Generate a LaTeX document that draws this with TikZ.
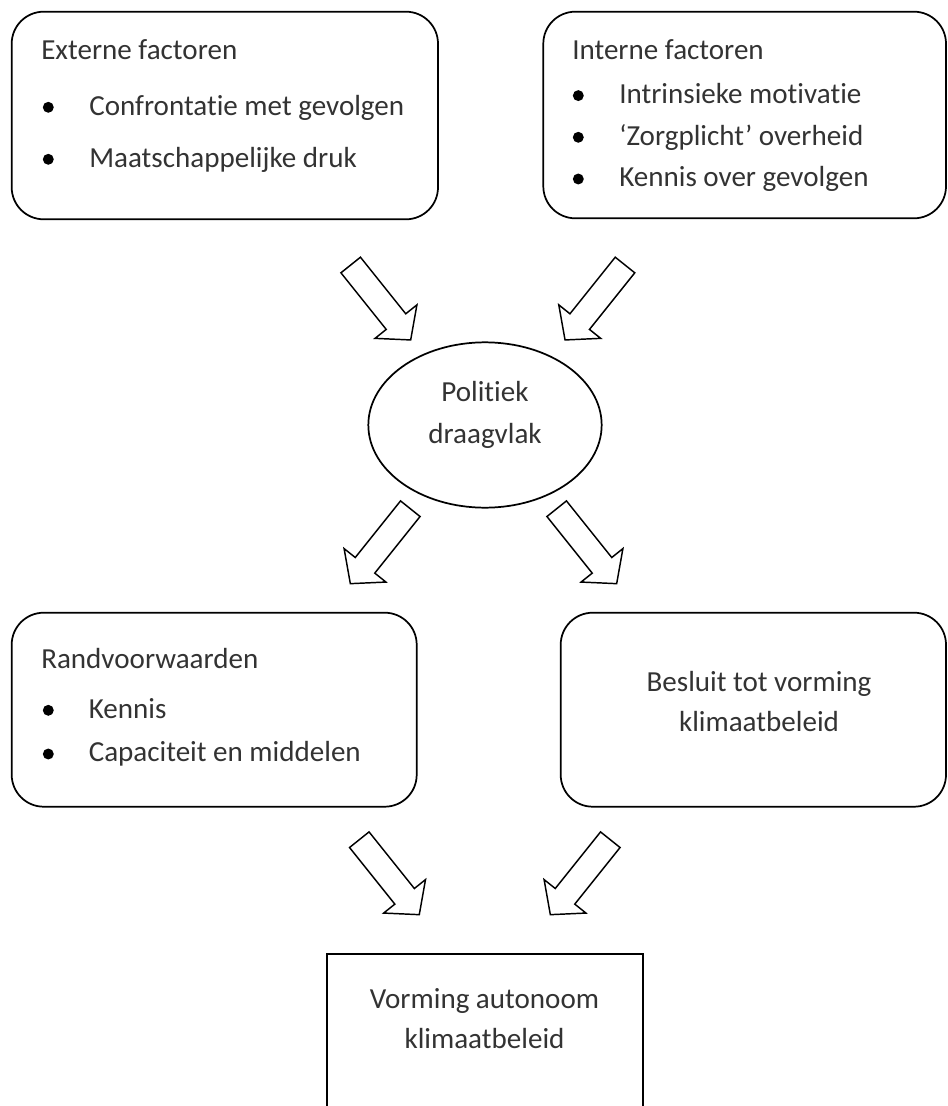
\documentclass[tikz,border=0pt]{standalone}
\usepackage{fontspec}
\setmainfont{Carlito}[Ligatures={NoCommon}]
\usetikzlibrary{shapes.geometric,fit}
\tikzset{
  x=0.75pt, y=-0.75pt,
  rbox/.style={draw, line width=1.3pt, rounded corners=24pt, inner sep=0pt},
  sbox/.style={draw, line width=1.3pt, inner sep=0pt},
  oval/.style={draw, ellipse, line width=1.3pt, inner sep=0pt, minimum width=175pt, minimum height=124pt},
  txt/.style={inner sep=0pt, anchor=base west, font=\fontsize{21.8}{25}\selectfont, text=black!80},
  ctxt/.style={inner sep=0pt, anchor=base, font=\fontsize{21.8}{25}\selectfont, text=black!80},
  bul/.style={circle, fill=black, inner sep=0pt, minimum size=8.2pt},
  barrow/.style={draw, line width=1.1pt, line join=miter, fill=white}
}
\newcommand\blockarrow[3]{\draw[barrow, shift={(#1,#2)}, rotate=#3] (0,-12.5) -- (72.5,-12.5) -- (72.5,-26.8) -- (96,0) -- (72.5,26.8) -- (72.5,12.5) -- (0,12.5) -- cycle;}
\begin{document}
\begin{tikzpicture}
\useasboundingbox (0,0) rectangle (947,1106);
\clip (0,0) rectangle (947,1106);
% boxes
\node[rbox, fit={(11.7,11.7) (438,219.3)}] (ext) {};
\node[rbox, fit={(543.3,11.7) (946,218.3)}] (int) {};
\node[oval] (pol) at (485,425) {};
\node[rbox, fit={(11.7,612.7) (416.7,806.7)}] (rand) {};
\node[rbox, fit={(560.7,612.7) (946,806.7)}] (bes) {};
\node[sbox, fit={(326.7,954.3) (642.7,1150)}] (vorm) {};
% Externe factoren
\node[txt] (e0) at (41,60) {Externe factoren};
\node[bul] (eb1) at (48.3,107.3) {};
\node[txt] (e1) at (89,115) {Confrontatie met gevolgen};
\node[bul] (eb2) at (48.3,159.3) {};
\node[txt] (e2) at (89,167) {Maatschappelijke druk};
% Interne factoren
\node[txt] (i0) at (572,60) {Interne factoren};
\node[bul] (ib1) at (578.3,95.6) {};
\node[txt] (i1) at (619,103.3) {Intrinsieke motivatie};
\node[bul] (ib2) at (578.3,137.3) {};
\node[txt] (i2) at (619,145) {‘Zorgplicht’ overheid};
\node[bul] (ib3) at (578.3,179) {};
\node[txt] (i3) at (619,186.7) {Kennis over gevolgen};
% Politiek draagvlak
\node[ctxt] (p1) at (485,401.7) {Politiek};
\node[ctxt] (p2) at (485,443.3) {draagvlak};
% Randvoorwaarden
\node[txt] (r0) at (41,668) {Randvoorwaarden};
\node[bul] (rb1) at (48.3,710.3) {};
\node[txt] (r1) at (88.5,718) {Kennis};
\node[bul] (rb2) at (48.3,754) {};
\node[txt] (r2) at (88.5,761.7) {Capaciteit en middelen};
% Besluit
\node[ctxt] (b1) at (759,691.7) {Besluit tot vorming};
\node[ctxt] (b2) at (759,731.7) {klimaatbeleid};
% Vorming
\node[ctxt] (v1) at (484.5,1008) {Vorming autonoom};
\node[ctxt] (v2) at (484.5,1048) {klimaatbeleid};
% block arrows
\blockarrow{350.7}{265}{-51.34}
\blockarrow{625}{265}{-128.66}
\blockarrow{410.3}{508.7}{-128.66}
\blockarrow{556.7}{508.7}{-51.34}
\blockarrow{359.3}{839.7}{-51.34}
\blockarrow{610.3}{839.7}{-128.66}
\end{tikzpicture}
\end{document}
